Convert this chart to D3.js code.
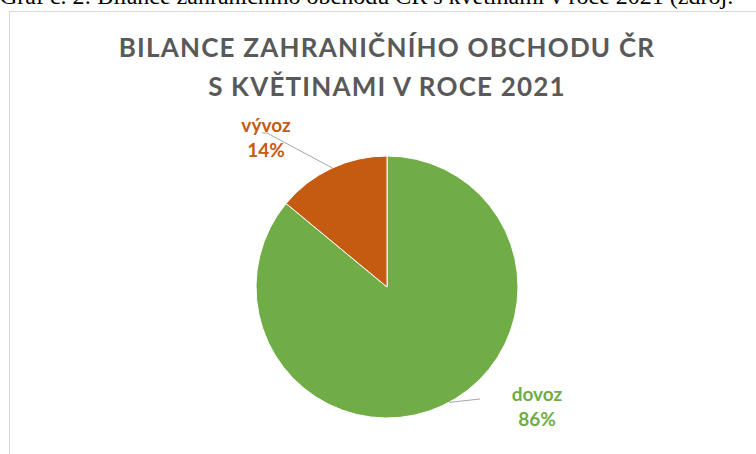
<!DOCTYPE html>
<html><head><meta charset="utf-8">
<script src="https://cdn.jsdelivr.net/npm/d3@7"></script>
<style>body{margin:0;background:#fff}svg{display:block}</style>
</head><body>
<svg id="c" width="756" height="454"></svg>
<script>
const categories = ["dovoz", "vývoz"];
const values = [86, 14];
const colors = ["#70AD47", "#C55A11"];
const titleLines = ["BILANCE ZAHRANIČNÍHO OBCHODU ČR", "S KVĚTINAMI V ROCE 2021"];
const caption = "Graf č. 2: Bilance zahraničního obchodu ČR s květinami v roce 2021 (zdroj:";

const svg = d3.select("#c");
const font = "Lato, 'Open Sans', sans-serif";

// cropped caption above chart
svg.append("text").attr("x", 0).attr("y", 4)
  .attr("font-family", "'Liberation Serif', serif").attr("font-size", 24)
  .attr("fill", "#000").text(caption);

// chart area border
svg.append("rect").attr("x", 9.5).attr("y", 11.5).attr("width", 800).attr("height", 500)
  .attr("fill", "#fff").attr("stroke", "#d9d9d9").attr("stroke-width", 1);

// title
svg.append("g").selectAll("text").data(titleLines).join("text")
  .attr("x", 387).attr("y", (d, i) => 57 + i * 39)
  .attr("text-anchor", "middle")
  .attr("font-family", font).attr("font-weight", "bold").attr("font-size", 26)
  .attr("letter-spacing", 1.2)
  .attr("fill", "#595959").text(d => d);

const cx = 387, cy = 287, r = 131;
const pie = d3.pie().sort(null).value(d => d.v);
const data = pie(categories.map((c, i) => ({c, v: values[i], col: colors[i]})));
const arc = d3.arc().innerRadius(0).outerRadius(r);
const g = svg.append("g").attr("transform", `translate(${cx},${cy})`);
g.selectAll("path").data(data).join("path")
  .attr("d", arc).attr("fill", d => d.data.col)
  .attr("stroke", "#fff").attr("stroke-width", 1);

// leader lines (start on arc edge at given angle)
function edge(a) { return [cx + r * Math.sin(a), cy - r * Math.cos(a)]; }
const leaders = [
  {a: data[1].startAngle + (data[1].endAngle - data[1].startAngle) * 0.51, pts: [[267, 133], [262, 133]]},
  {a: data[0].startAngle + (data[0].endAngle - data[0].startAngle) * 0.49, pts: [[480, 399]]}
];
leaders.forEach(l => {
  const p0 = edge(l.a);
  svg.append("polyline").attr("points", [p0, ...l.pts].map(p => p.join(",")).join(" "))
    .attr("fill", "none").attr("stroke", "#a6a6a6").attr("stroke-width", 1);
});

const labPos = [[537, 401], [266, 132]];
data.forEach((d, i) => {
  const t = svg.append("text").attr("text-anchor", "middle")
    .attr("font-family", font).attr("font-weight", "bold").attr("font-size", 19)
    .attr("fill", d.data.col);
  t.append("tspan").attr("x", labPos[i][0]).attr("y", labPos[i][1]).text(d.data.c);
  t.append("tspan").attr("x", labPos[i][0]).attr("y", labPos[i][1] + 25).text(d.data.v + "%");
});
</script>
</body></html>
